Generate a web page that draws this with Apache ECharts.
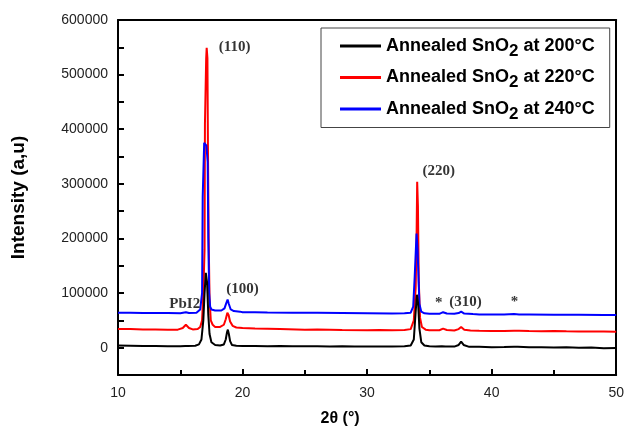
<!DOCTYPE html>
<html>
<head>
<meta charset="utf-8">
<script src="https://cdn.jsdelivr.net/npm/echarts@6/dist/echarts.min.js"></script>
<style>html,body{margin:0;padding:0;background:#fff}#c{width:627px;height:433px}</style>
</head>
<body>
<div id="c"></div>
<script>
var seriesNames = ['Annealed SnO2 at 200°C', 'Annealed SnO2 at 220°C', 'Annealed SnO2 at 240°C'];
var seriesColors = ['#000000', '#ff0000', '#0000ff'];

var data200 = [[10,4000],[11,3500],[12,3000],[13,3200],[14,2800],[15,2500],[15.4,3000],[15.5,4000],[15.6,3000],[16.2,3500],[16.5,6000],[16.7,15000],[16.85,50000],[16.95,100000],[17.05,137000],[17.15,120000],[17.25,60000],[17.35,25000],[17.5,10000],[17.8,5000],[18.2,4000],[18.5,6000],[18.65,15000],[18.75,28000],[18.82,33000],[18.9,25000],[19.0,12000],[19.15,5000],[19.5,3500],[20,3000],[21,3200],[22,2800],[23,3000],[24,2600],[25,2500],[26,2800],[27,2400],[28,2500],[29,2200],[30,2000],[31,2300],[32,2000],[33,2500],[33.5,4000],[33.75,15000],[33.88,60000],[34.0,97000],[34.1,80000],[34.2,35000],[34.35,10000],[34.6,4000],[35,2500],[35.5,2000],[36.0,2500],[36.1,3500],[36.3,2000],[37,2000],[37.35,5000],[37.55,11000],[37.75,5000],[38.2,1500],[39,1500],[40,1000],[41,1200],[41.8,1500],[41.95,3500],[42.1,1500],[43,800],[44,1000],[45,500],[46,800],[47,0],[48,500],[49,-1000],[50,-500]];

var data220 = [[10,34000],[11,34000],[12,33500],[13,33500],[14,33000],[14.8,33000],[15.2,36000],[15.45,42000],[15.7,36000],[16.0,33500],[16.4,34000],[16.6,38000],[16.75,50000],[16.85,100000],[16.95,180000],[16.98,410000],[17.05,410000],[17.08,530000],[17.12,549000],[17.18,530000],[17.22,370000],[17.28,200000],[17.35,90000],[17.45,50000],[17.6,42000],[17.8,38000],[18.2,38000],[18.5,42000],[18.65,52000],[18.78,64000],[18.88,60000],[19.0,48000],[19.2,40000],[19.5,37000],[20,36000],[21,35000],[22,34500],[23,34000],[25,33000],[26,33500],[28,32500],[30,32000],[31,32500],[32,32000],[33,32500],[33.5,34000],[33.75,50000],[33.9,110000],[33.97,200000],[34.02,304000],[34.08,260000],[34.15,120000],[34.25,55000],[34.4,38000],[34.7,33000],[35,32000],[35.8,32000],[36.1,35000],[36.4,32500],[37,31500],[37.35,34000],[37.55,38000],[37.8,33000],[38.3,31500],[39,31000],[40,30500],[41,30500],[41.8,31000],[41.95,33500],[42.2,31000],[43,30500],[44,30000],[45,30500],[46,30000],[47,29800],[48,29500],[49,29500],[50,29000]];

var data240 = [[10,64000],[11,64000],[12,63500],[13,63500],[14,63500],[15,63000],[15.45,65000],[15.7,63500],[16.3,64000],[16.6,70000],[16.75,100000],[16.8,276000],[16.88,276000],[16.92,375000],[17.1,370000],[17.2,340000],[17.25,200000],[17.32,100000],[17.4,75000],[17.5,70000],[17.8,68000],[18.3,68000],[18.55,72000],[18.7,82000],[18.8,88000],[18.9,80000],[19.05,70000],[19.3,67000],[19.8,66000],[20,65000],[21,65000],[22,64500],[24,64000],[26,64000],[28,63500],[30,63000],[32,62500],[33,63000],[33.5,64000],[33.7,75000],[33.82,130000],[33.9,130000],[33.97,209000],[34.05,180000],[34.12,180000],[34.2,80000],[34.35,66000],[34.6,63000],[35,62000],[35.8,62000],[36.1,65000],[36.4,62500],[37,62000],[37.35,63500],[37.55,66000],[37.8,62500],[38.5,61500],[39,61000],[40,61000],[41,61000],[41.8,61500],[41.95,64000],[42.2,61000],[43,61000],[45,60500],[47,60500],[49,60000],[50,60000]];

var annotationTexts = ['(110)', 'PbI2', '(100)', '(220)', '*', '(310)', '*'];
var annotationX = [19.36, 15.36, 20.0, 35.76, 35.76, 37.9, 41.84];
var annotationY = [550000, 79000, 108000, 324000, 82000, 84000, 84000];

var yTicks = [0, 100000, 200000, 300000, 400000, 500000, 600000];

var chart = echarts.init(document.getElementById('c'), null, {renderer: 'canvas'});

function mkLine(i, d) {
  return {
    name: seriesNames[i], type: 'line', data: d, symbol: 'none',
    lineStyle: {color: seriesColors[i], width: 2}, itemStyle: {color: seriesColors[i]},
    animation: false
  };
}

var annData = annotationTexts.map(function (t, i) { return [annotationX[i], annotationY[i], t]; });

var option = {
  animation: false,
  backgroundColor: '#ffffff',
  grid: {left: 118, right: 9, top: 20, bottom: 58},
  legend: {
    data: [seriesNames[0], seriesNames[1], seriesNames[2]],
    orient: 'vertical', left: 321, top: 28,
    icon: 'rect', itemWidth: 41, itemHeight: 3, itemGap: 9,
    padding: [9, 15, 5, 19],
    borderColor: '#444', borderWidth: 1, backgroundColor: '#fff',
    formatter: function (n) { return n.replace('SnO2', 'SnO{sub|2}'); },
    textStyle: {
      fontFamily: 'Liberation Sans, Arial', fontWeight: 'bold', fontSize: 18, color: '#000',
      rich: {sub: {fontFamily: 'Liberation Sans, Arial', fontWeight: 'bold', fontSize: 17, color: '#000', padding: [10, 0, 0, 0]}}
    }
  },
  xAxis: [{
    type: 'value', min: 10, max: 50, interval: 10,
    name: '2θ (°)', nameLocation: 'middle', nameGap: 36,
    nameTextStyle: {fontFamily: 'Liberation Sans, Arial', fontWeight: 'bold', fontSize: 16, color: '#000', padding: [0, 54, 0, 0]},
    axisLine: {show: true, onZero: false, lineStyle: {color: '#000', width: 2}},
    axisTick: {show: true, inside: true, length: 6, lineStyle: {color: '#000', width: 2}},
    minorTick: {show: true, splitNumber: 2, length: 5, lineStyle: {color: '#000', width: 2}},
    axisLabel: {fontFamily: 'Liberation Sans, Arial', fontSize: 14, color: '#222', margin: 11},
    splitLine: {show: false}
  }, {
    type: 'value', min: 10, max: 50, position: 'top',
    axisLine: {show: true, onZero: false, lineStyle: {color: '#000', width: 2}},
    axisTick: {show: false}, axisLabel: {show: false}, splitLine: {show: false}
  }],
  yAxis: [{
    type: 'value', min: -50000, max: 600000, interval: 50000,
    name: 'Intensity (a,u)', nameLocation: 'middle', nameGap: 90,
    nameTextStyle: {fontFamily: 'Liberation Sans, Arial', fontWeight: 'bold', fontSize: 19, color: '#000'},
    axisLine: {show: true, onZero: false, lineStyle: {color: '#000', width: 2}},
    axisTick: {show: true, inside: true, length: 6, lineStyle: {color: '#000', width: 2}},
    axisLabel: {
      fontFamily: 'Liberation Sans, Arial', fontSize: 14, color: '#222', margin: 10,
      formatter: function (v) { return yTicks.indexOf(v) >= 0 ? String(v) : ''; }
    },
    splitLine: {show: false}
  }, {
    type: 'value', min: -50000, max: 600000, position: 'right',
    axisLine: {show: true, onZero: false, lineStyle: {color: '#000', width: 2}},
    axisTick: {show: false}, axisLabel: {show: false}, splitLine: {show: false}
  }],
  series: [
    mkLine(1, data220),
    mkLine(2, data240),
    mkLine(0, data200),
    {
      type: 'scatter', data: annData, symbolSize: 0, silent: true, z: 5,
      label: {
        show: true, position: 'inside', formatter: function (p) { return p.data[2]; },
        fontFamily: 'Liberation Serif, Times New Roman', fontWeight: 'bold', fontSize: 15, color: '#000'
      }
    }
  ]
};
chart.setOption(option);
</script>
</body>
</html>
